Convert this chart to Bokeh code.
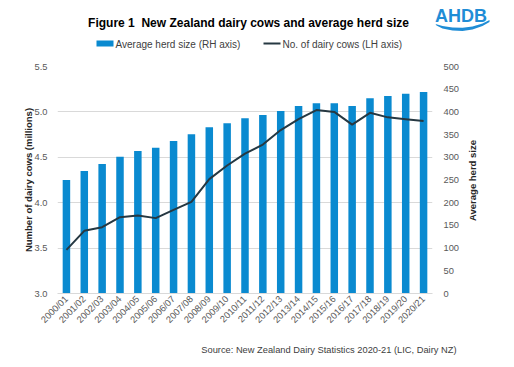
from math import pi
from bokeh.plotting import figure
from bokeh.layouts import column, row
from bokeh.models import (Range1d, LinearAxis, FactorRange, SingleIntervalTicker,
                          NumeralTickFormatter)
from bokeh.core.properties import value
from bokeh.embed import file_html
from bokeh.resources import INLINE

seasons = ["2000/01", "2001/02", "2002/03", "2003/04", "2004/05", "2005/06", "2006/07",
           "2007/08", "2008/09", "2009/10", "2010/11", "2011/12", "2012/13", "2013/14",
           "2014/15", "2015/16", "2016/17", "2017/18", "2018/19", "2019/20", "2020/21"]
herd_size = [250, 270, 285, 301, 314, 321, 336, 351, 366, 375, 386, 393, 402, 413,
             419, 419, 413, 430, 435, 440, 444]
cows = [3.48, 3.69, 3.73, 3.84, 3.86, 3.83, 3.92, 4.01, 4.26, 4.41, 4.54, 4.64, 4.80,
        4.92, 5.02, 5.00, 4.86, 4.99, 4.94, 4.92, 4.90]

title_text = "Figure 1\u00a0 New Zealand dairy cows and average herd size"
bar_label = "Average herd size (RH axis)"
line_label = "No. of dairy cows (LH axis)"
source_text = "Source: New Zealand Dairy Statistics 2020-21 (LIC, Dairy NZ)"
left_label = "Number of dairy cows (millions)"
right_label = "Average herd size"

FONT = value("Liberation Sans")
TICK_COLOR = "#595959"
GRID = "#D9D9D9"
BAR_COLOR = "#0A8AD0"
LINE_COLOR = "#263842"
W = 514
STRIP = 52


def no_align(fig):
    try:
        fig.frame_align = False
    except Exception:
        pass


def blank(width, height, x0, x1, y0, y1):
    f = figure(width=width, height=height, x_range=Range1d(x0, x1), y_range=Range1d(y1, y0),
               output_backend="svg", toolbar_location=None, min_border=0)
    f.min_border_left = f.min_border_right = f.min_border_top = f.min_border_bottom = 0
    f.xaxis.visible = False
    f.yaxis.visible = False
    f.grid.grid_line_color = None
    f.outline_line_color = None
    no_align(f)
    return f


# ---------- header: title, legend, logo ----------
h = blank(W, 50, 0, W, 0, 50)
h.text(x=[248], y=[22], text=[title_text], text_font=FONT, text_font_size="12px",
       text_font_style="bold", text_align="center", text_baseline="middle",
       text_color="#000000")
h.quad(left=[96], right=[113], top=[40], bottom=[46], fill_color=BAR_COLOR, line_color=None)
h.text(x=[115], y=[43.5], text=[bar_label], text_font=FONT, text_font_size="10px",
       text_align="left", text_baseline="middle", text_color="#404040")
h.line(x=[263, 280], y=[43, 43], line_color=LINE_COLOR, line_width=2)
h.text(x=[282], y=[43.5], text=[line_label], text_font=FONT, text_font_size="10px",
       text_align="left", text_baseline="middle", text_color="#404040")
h.text(x=[460.5], y=[15.5], text=["AHDB"], text_font=FONT, text_font_size="18px",
       text_font_style="bold", text_align="center", text_baseline="middle",
       text_color="#1F8DD6")
h.patch(x=[435, 442, 452, 462, 472, 482, 489, 489, 482, 472, 462, 452, 442, 436],
        y=[23.5, 25.5, 27, 27.3, 26, 23, 19.5, 21.5, 25.5, 29, 30.5, 30, 28, 25],
        fill_color="#1F8DD6", line_color=None)

# ---------- main chart ----------
p = figure(width=W - STRIP, height=290, x_range=FactorRange(*seasons, range_padding=0),
           y_range=Range1d(3.0, 5.5), output_backend="svg", toolbar_location=None,
           min_border_left=57, min_border_right=W - STRIP - 434, min_border_top=16,
           min_border_bottom=47)
no_align(p)
p.outline_line_color = None
p.extra_y_ranges = {"herd": Range1d(0, 500)}

bars = p.vbar(x=seasons, top=herd_size, bottom=0, width=0.42, fill_color=BAR_COLOR,
              line_color=None, y_range_name="herd")
line = p.line(x=seasons, y=cows, line_color=LINE_COLOR, line_width=2)

p.xgrid.grid_line_color = None
p.ygrid.grid_line_color = GRID
p.ygrid.ticker = SingleIntervalTicker(interval=0.5)

ya = p.yaxis[0]
ya.ticker = SingleIntervalTicker(interval=0.5)
ya.formatter = NumeralTickFormatter(format="0.0")
ya.axis_label = left_label

ra = LinearAxis(y_range_name="herd", ticker=SingleIntervalTicker(interval=50))
p.add_layout(ra, "right")

for ax in (ya, ra):
    ax.axis_line_color = None
    ax.major_tick_line_color = None
    ax.minor_tick_line_color = None
    ax.major_tick_out = 0
    ax.major_tick_in = 0
    ax.major_label_standoff = 7
    ax.major_label_text_font = "Liberation Sans"
    ax.major_label_text_font_size = "9.3px"
    ax.major_label_text_color = TICK_COLOR
    ax.axis_label_text_font = "Liberation Sans"
    ax.axis_label_text_font_size = "9.5px"
    ax.axis_label_text_font_style = "bold"
    ax.axis_label_text_color = "#262626"
    ax.axis_label_standoff = 2

ya.major_label_standoff = 6
ya.axis_label_standoff = -2

xa = p.xaxis[0]
xa.axis_line_color = GRID
xa.major_tick_line_color = None
xa.major_tick_out = 0
xa.major_tick_in = 0
xa.major_label_orientation = pi / 4
xa.major_label_standoff = 4
xa.major_label_text_font = "Liberation Sans"
xa.major_label_text_font_size = "9.3px"
xa.major_label_text_color = TICK_COLOR

# ---------- right strip: right-axis title, reading upwards ----------
s = blank(STRIP, 290, W - STRIP, W, 66, 293)
s.min_border_top = 16
s.min_border_bottom = 47
s.text(x=[471.5], y=[180], text=[right_label], angle=pi / 2, text_font=FONT,
       text_font_size="9.5px", text_font_style="bold", text_align="center",
       text_baseline="middle", text_color="#262626")

# ---------- footer: source ----------
f = blank(W, 27, 0, W, 340, 367)
f.text(x=[456], y=[349], text=[source_text], text_font=FONT, text_font_size="9.3px",
       text_align="right", text_baseline="middle", text_color="#404040")

layout = column(h, row(p, s, spacing=0), f, spacing=0)
open("out.html", "w").write(file_html(layout, INLINE))
